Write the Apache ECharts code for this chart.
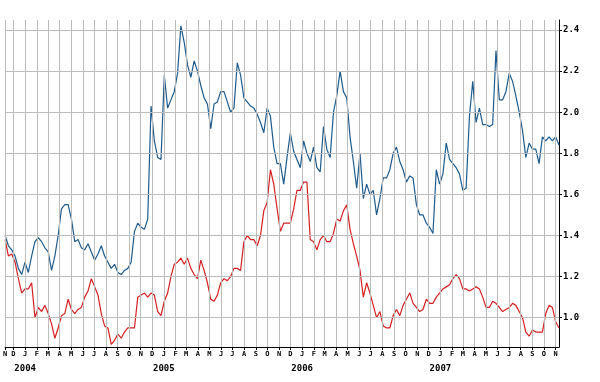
<!DOCTYPE html>
<html><head><meta charset="utf-8">
<script src="https://cdn.jsdelivr.net/npm/echarts@6/dist/echarts.min.js"></script>
<style>html,body{margin:0;padding:0;background:#fff}#c{width:600px;height:382px}</style>
</head><body><div id="c"></div>
<script>
// window of the chart (4 years), sampled at equal steps
const startDate = [2003, 10, 9];
const endDate = [2007, 10, 10];

const blueValues = [
1.40,1.35,1.33,1.30,1.24,1.21,1.27,1.22,1.30,1.37,1.39,1.37,1.34,1.32,1.23,1.30,1.40,1.53,1.55,1.55,1.48,1.37,1.38,1.34,1.33,1.36,1.32,1.28,
1.31,1.35,1.30,1.27,1.24,1.26,1.22,1.21,1.23,1.24,1.27,1.42,1.46,1.44,1.43,1.48,2.03,1.86,1.78,1.77,2.18,2.02,2.06,2.10,2.19,2.42,2.34,2.23,
2.17,2.25,2.20,2.13,2.07,2.04,1.92,2.04,2.05,2.10,2.10,2.05,2.00,2.02,2.24,2.18,2.07,2.05,2.03,2.02,1.99,1.95,1.90,2.02,1.98,1.83,1.75,1.75,
1.65,1.78,1.90,1.81,1.77,1.73,1.86,1.80,1.76,1.83,1.73,1.71,1.93,1.82,1.78,2.00,2.08,2.20,2.10,2.07,1.88,1.76,1.63,1.80,1.58,1.65,1.60,1.62,
1.50,1.58,1.68,1.68,1.72,1.80,1.83,1.76,1.72,1.66,1.69,1.68,1.55,1.50,1.50,1.46,1.44,1.41,1.72,1.65,1.70,1.85,1.77,1.75,1.73,1.70,1.62,1.63,
1.98,2.15,1.95,2.02,1.94,1.94,1.93,1.94,2.30,2.06,2.06,2.10,2.19,2.15,2.08,2.00,1.91,1.78,1.85,1.82,1.82,1.75,1.88,1.86,1.88,1.86,1.88,1.84
];

const redValues = [
1.38,1.30,1.31,1.27,1.19,1.12,1.14,1.14,1.17,1.00,1.05,1.03,1.06,1.02,0.97,0.90,0.95,1.01,1.02,1.09,1.04,1.02,1.04,1.05,1.10,1.13,1.19,1.15,
1.11,1.02,0.96,0.95,0.87,0.89,0.92,0.90,0.93,0.95,0.95,0.95,1.10,1.11,1.12,1.10,1.12,1.11,1.03,1.01,1.08,1.12,1.20,1.26,1.27,1.29,1.26,1.29,
1.24,1.21,1.19,1.28,1.23,1.17,1.09,1.08,1.11,1.17,1.19,1.18,1.20,1.24,1.24,1.23,1.37,1.40,1.38,1.38,1.35,1.40,1.52,1.56,1.72,1.65,1.53,1.42,
1.46,1.46,1.46,1.53,1.62,1.62,1.66,1.66,1.38,1.37,1.33,1.38,1.40,1.37,1.37,1.41,1.48,1.47,1.52,1.55,1.43,1.36,1.30,1.23,1.10,1.17,1.12,1.06,
1.00,1.03,0.96,0.95,0.95,1.01,1.04,1.01,1.06,1.09,1.12,1.07,1.05,1.03,1.04,1.09,1.07,1.07,1.10,1.12,1.14,1.15,1.16,1.19,1.21,1.19,1.14,1.14,
1.13,1.14,1.15,1.14,1.10,1.05,1.05,1.08,1.07,1.05,1.03,1.04,1.05,1.07,1.06,1.03,1.00,0.93,0.91,0.94,0.93,0.93,0.93,1.02,1.06,1.05,0.98,0.95
];

const yTickValues = [1.0, 1.2, 1.4, 1.6, 1.8, 2.0, 2.2, 2.4];
const monthLetters = ['J','F','M','A','M','J','J','A','S','O','N','D'];

const t0 = Date.UTC(startDate[0], startDate[1], startDate[2]);
const t1 = Date.UTC(endDate[0], endDate[1], endDate[2]);
const n = blueValues.length;
const step = (t1 - t0) / (n - 1);
const times = blueValues.map((_, i) => t0 + i * step);
const blueData = blueValues.map((v, i) => [times[i], v]);
const redData = redValues.map((v, i) => [times[i], v]);

// month-start tick positions
const monthTicks = [t0];
for (let y = 2003; y <= 2007; y++) {
  for (let m = 0; m < 12; m++) {
    const t = Date.UTC(y, m, 1);
    if (t > t0 && t <= t1) monthTicks.push(t);
  }
}

const gridColor = '#bdbdbd';
const chart = echarts.init(document.getElementById('c'), null, {renderer: 'canvas'});
chart.setOption({
  animation: false,
  backgroundColor: '#fff',
  grid: {left: 3, right: 41, top: 20, bottom: 35, containLabel: false},
  xAxis: {
    type: 'value', min: t0, max: t1,
    axisLine: {show: true, onZero: false, lineStyle: {color: '#000', width: 1}},
    axisTick: {show: true, length: 3, lineStyle: {color: '#000'}, customValues: monthTicks},
    splitLine: {show: false},
    axisLabel: {
      customValues: monthTicks, margin: 2, color: '#000', hideOverlap: false,
      formatter: function (v) {
        const d = new Date(v);
        const m = d.getUTCMonth();
        let s = '{m|' + monthLetters[m] + '}';
        if (m === 0 && v !== t0) s += '\n{y|' + d.getUTCFullYear() + '}';
        return s;
      },
      rich: {
        m: {fontFamily: 'DejaVu Sans Mono', fontSize: 7, fontWeight: 'bold', lineHeight: 10, color: '#000'},
        y: {fontFamily: 'DejaVu Sans Mono', fontSize: 9, fontWeight: 'bold', lineHeight: 20, color: '#000'}
      }
    }
  },
  yAxis: [{
    type: 'value', position: 'right', min: 0.8574, max: 2.4487,
    axisLine: {show: true, lineStyle: {color: '#000', width: 1}},
    axisTick: {show: true, length: 3, lineStyle: {color: '#000'}, customValues: yTickValues},
    splitLine: {show: false},
    axisLabel: {
      customValues: yTickValues, margin: 4, color: '#000',
      fontFamily: 'DejaVu Sans Mono', fontSize: 9, fontWeight: 'bold',
      formatter: v => v.toFixed(1)
    }
  }, {
    type: 'value', position: 'right', min: 0.8574, max: 2.4487,
    axisLine: {show: false},
    axisTick: {show: true, inside: true, length: 3, lineStyle: {color: '#000'}, customValues: yTickValues},
    axisLabel: {show: false},
    splitLine: {show: false}
  }],
  series: [
    {
      type: 'line', data: [], z: 1, silent: true,
      markLine: {
        silent: true, symbol: ['none', 'none'], animation: false,
        label: {show: false},
        lineStyle: {color: gridColor, width: 1, type: 'solid'},
        emphasis: {disabled: true},
        data: monthTicks.map(t => ({xAxis: t})).concat(yTickValues.map(v => ({yAxis: v})))
      }
    },
    {
      name: 'blue', type: 'line', data: blueData, z: 3, showSymbol: false, symbol: 'none',
      lineStyle: {color: '#1d5b8d', width: 1.2}, itemStyle: {color: '#1d5b8d'}
    },
    {
      name: 'red', type: 'line', data: redData, z: 4, showSymbol: false, symbol: 'none',
      lineStyle: {color: '#d42020', width: 1.2}, itemStyle: {color: '#d42020'}
    }
  ]
});
</script>
</body></html>
